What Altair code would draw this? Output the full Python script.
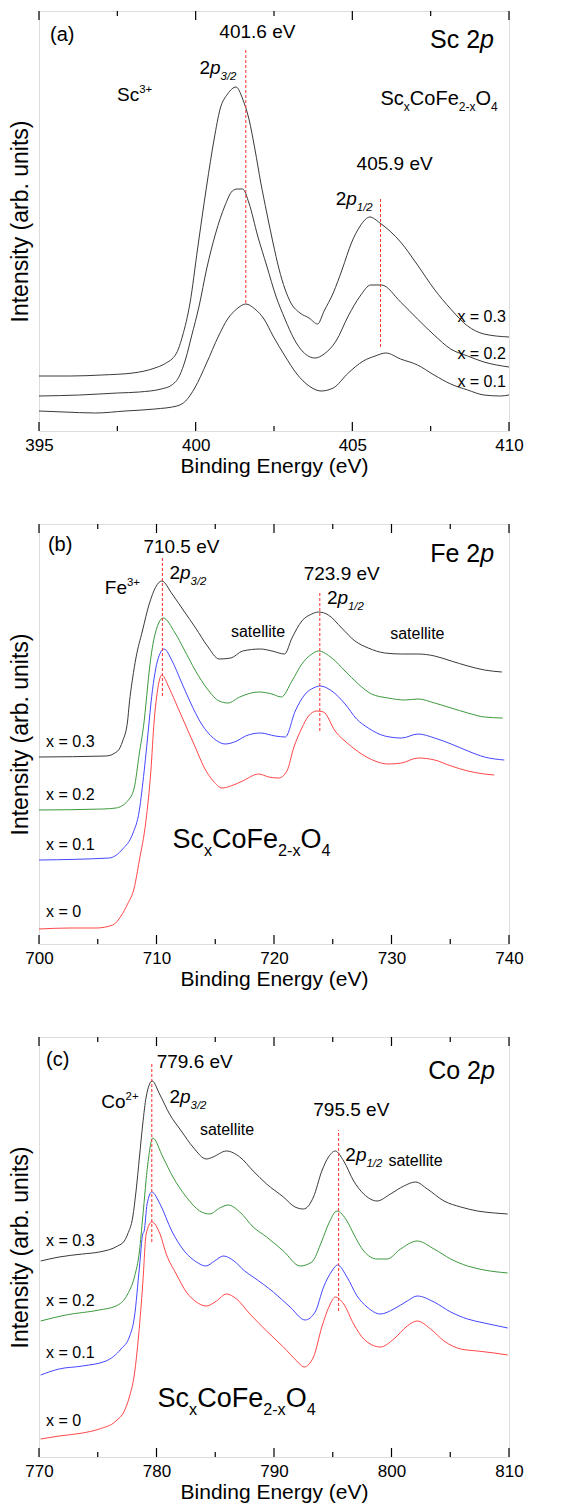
import altair as alt
import pandas as pd

FONT = "Liberation Sans"

# ---------------- panel (a): Sc 2p ----------------
A_NAMES = ["x = 0.3", "x = 0.2", "x = 0.1"]
A_COLORS = ["#3a3a3a", "#3a3a3a", "#3a3a3a"]
A3_E = [395.0, 396.0, 397.0, 398.0, 398.7, 399.0, 399.39, 399.58, 399.82, 400.06, 400.35, 400.59, 400.78,
        401.02, 401.29, 401.5, 401.7, 401.89, 402.08, 402.27, 402.47, 402.66, 402.85, 403.04, 403.33, 403.62,
        403.89, 404.1, 404.39, 404.68, 404.97, 405.25, 405.56, 405.88, 406.54, 407.08, 407.61, 408.14, 408.68,
        409.2, 410.0]
A3_I = [55, 55, 56, 58, 63, 67, 78, 95, 128, 182, 245, 292, 322, 337, 344, 332, 312, 282, 248, 218, 188, 162,
        142, 128, 118, 113, 107, 120, 138, 162, 188, 205, 214, 208, 189, 166, 142, 122, 105, 97, 94]
A2_E = [395.0, 396.3, 397.5, 398.2, 398.9, 399.24, 399.48, 399.68, 399.87, 400.11, 400.35, 400.64, 400.93,
        401.17, 401.33, 401.5, 401.7, 401.98, 402.27, 402.56, 402.85, 403.14, 403.43, 403.81, 404.1, 404.48,
        404.87, 405.25, 405.59, 405.93, 406.54, 407.08, 407.61, 408.14, 408.68, 409.2, 410.0]
A2_I = [35, 36, 38, 39, 42, 46, 55, 72, 95, 125, 162, 198, 225, 240, 242, 242, 228, 195, 165, 135, 112, 92, 79,
        73, 77, 90, 115, 135, 146, 146, 129, 112, 96, 82, 75, 69, 64]
A1_E = [395.0, 395.8, 396.8, 397.75, 398.7, 399.4, 399.68, 399.97, 400.35, 400.73, 401.02, 401.31, 401.6,
        401.89, 402.18, 402.47, 402.85, 403.23, 403.62, 404.0, 404.39, 404.87, 405.35, 405.73, 406.07, 406.54,
        407.08, 407.61, 408.14, 408.68, 409.2, 409.73, 410.0]
A1_I = [20, 19, 18, 20, 22, 25, 30, 43, 68, 95, 112, 122, 127, 122, 112, 95, 75, 57, 45, 40, 43, 58, 70, 75, 78,
        72, 66, 56, 47, 41, 36, 35, 36]
A_PEAKS = [401.6, 405.9]
A_PEAK_LO = [128, 84]
A_PEAK_HI = [382, 232]
A_MAJOR = [395, 400, 405, 410]
A_MINOR = [397.5, 402.5, 407.5]

# ---------------- panel (b): Fe 2p ----------------
B_NAMES = ["x = 0.3", "x = 0.2", "x = 0.1", "x = 0"]
B_COLORS = ["#3a3a3a", "#3c9a3c", "#4646ff", "#ff4646"]
B3_E = [700.0, 705.7, 706.7, 707.12, 707.54, 707.68, 707.97, 708.25, 708.8, 709.38, 710.45, 711.33, 712.33,
        713.33, 714.33, 715.33, 716.33, 717.33, 718.84, 719.83, 720.9, 721.53, 722.37, 723.22, 723.79, 724.63,
        725.76, 726.89, 728.02, 729.43, 730.85, 732.26, 733.67, 735.08, 736.5, 737.91, 739.4]
B3_I = [187, 188, 193, 203, 223, 240, 266, 286, 313, 340, 363, 350, 333, 316, 298, 285, 286, 293, 295, 293,
        290, 306, 323, 330, 332, 329, 316, 303, 296, 291, 290, 290, 288, 283, 278, 274, 272]
B2_E = [700.0, 705.42, 706.55, 707.54, 708.1, 708.53, 708.95, 709.1, 709.38, 709.8, 710.57, 711.58, 712.33,
        713.33, 714.33, 715.33, 716.08, 717.08, 718.7, 719.83, 720.62, 721.53, 722.37, 723.22, 723.79, 724.92,
        726.05, 727.18, 728.3, 729.72, 731.13, 732.26, 733.67, 735.08, 736.5, 737.91, 739.46]
B2_I = [134, 135, 136, 143, 156, 190, 223, 240, 273, 306, 326, 311, 295, 273, 255, 243, 241, 247, 252, 250,
        247, 263, 280, 290, 293, 286, 273, 260, 250, 246, 244, 245, 241, 236, 231, 227, 226]
B1_E = [700.0, 705.99, 707.12, 707.97, 708.53, 708.95, 709.38, 709.52, 709.8, 710.08, 710.65, 711.33, 712.08,
        712.83, 713.83, 714.83, 715.83, 716.83, 717.58, 718.84, 720.11, 720.96, 721.81, 722.66, 723.36, 723.93,
        724.92, 726.05, 727.03, 728.02, 729.43, 730.85, 732.26, 733.67, 735.08, 736.5, 737.91, 739.6]
B1_I = [84, 86, 95, 110, 133, 173, 223, 240, 266, 283, 295, 283, 263, 243, 220, 206, 200, 203, 208, 211, 208,
        207, 233, 250, 256, 258, 253, 240, 225, 216, 208, 206, 210, 206, 200, 193, 187, 184]
B0_E = [700.0, 702.6, 704.86, 706.27, 706.98, 707.54, 708.1, 708.53, 709.1, 709.52, 709.8, 710.0, 710.45,
        711.08, 711.83, 712.58, 713.33, 714.08, 714.83, 715.58, 716.33, 717.33, 718.7, 719.55, 720.4, 721.1,
        721.67, 722.37, 722.94, 723.64, 724.21, 725.2, 726.33, 727.46, 728.59, 729.72, 730.85, 732.26, 733.67,
        735.08, 736.5, 737.91, 738.75]
B0_I = [15, 16, 16, 19, 28, 40, 56, 83, 123, 173, 223, 246, 269, 256, 236, 216, 196, 176, 163, 156, 158, 163,
        170, 167, 166, 173, 196, 216, 228, 233, 232, 213, 200, 190, 183, 180, 181, 186, 184, 178, 173, 170, 169]
B_PEAKS = [710.5, 723.9]
B_PEAK_LO = [248, 213]
B_PEAK_HI = [386, 351]
B_MAJOR = [700, 710, 720, 730, 740]
B_MINOR = [705, 715, 725, 735]

# ---------------- panel (c): Co 2p ----------------
C_NAMES = B_NAMES
C_COLORS = B_COLORS
C3_E = [770.14, 771.71, 773.7, 775.13, 776.69, 777.26, 777.55, 777.98, 778.26, 778.55, 778.83, 779.12, 779.63,
        780.26, 781.11, 782.11, 783.1, 784.25, 784.81, 785.95, 787.09, 788.23, 789.37, 790.8, 791.79, 792.51,
        793.36, 794.07, 794.64, 795.21, 795.93, 796.78, 797.64, 798.77, 799.91, 801.05, 802.05, 803.05, 804.47,
        805.9, 807.32, 808.75, 809.89]
C3_I = [196, 200, 203, 205, 211, 216, 223, 240, 266, 300, 333, 360, 376, 363, 343, 326, 310, 298, 300, 306, 300,
        286, 273, 260, 250, 248, 260, 286, 300, 306, 296, 276, 263, 256, 263, 271, 275, 268, 256, 250, 246, 244,
        243]
C2_E = [770.14, 772.28, 775.13, 776.55, 777.55, 778.12, 778.55, 778.83, 779.26, 779.68, 780.54, 781.4, 782.54,
        783.68, 784.53, 785.38, 786.1, 787.09, 788.23, 789.37, 790.8, 792.22, 793.22, 794.07, 794.64, 795.36,
        796.21, 796.78, 797.64, 798.77, 799.63, 800.77, 802.19, 803.62, 805.04, 806.47, 807.89, 809.89]
C2_I = [136, 142, 147, 151, 163, 180, 206, 240, 293, 319, 300, 280, 260, 246, 243, 249, 252, 245, 230, 220, 206,
        191, 195, 216, 233, 246, 236, 223, 206, 198, 198, 208, 216, 208, 198, 191, 187, 184]
C1_E = [770.14, 771.71, 773.7, 775.7, 776.98, 777.69, 778.12, 778.55, 778.83, 778.95, 779.2, 779.6, 780.3,
        781.3, 782.36, 783.4, 784.2, 784.94, 785.7, 786.6, 787.5, 788.23, 789.94, 791.37, 792.65, 793.5, 794.22,
        794.93, 795.41, 796.21, 797.07, 797.92, 799.06, 800.2, 801.34, 802.19, 803.62, 805.04, 806.47, 807.89,
        809.89]
C1_I = [82, 88, 91, 96, 108, 120, 140, 190, 223, 226, 253, 265, 253, 226, 206, 195, 191, 196, 201, 196, 186,
        180, 165, 150, 137, 145, 170, 186, 192, 180, 161, 150, 143, 148, 156, 161, 155, 145, 138, 134, 129]
C0_E = [770.14, 771.71, 773.7, 775.13, 776.55, 777.26, 777.69, 778.12, 778.49, 778.83, 779.12, 779.6, 780.3,
        780.83, 781.68, 782.54, 783.39, 784.25, 785.1, 785.95, 786.81, 787.95, 789.37, 790.8, 791.94, 792.56,
        793.36, 794.07, 794.79, 795.21, 795.93, 796.78, 797.64, 799.06, 800.2, 801.34, 802.19, 803.33, 804.47,
        805.9, 807.32, 808.75, 809.89]
C0_I = [18, 21, 24, 28, 36, 46, 60, 83, 123, 173, 223, 235, 223, 203, 183, 165, 155, 151, 156, 163, 158, 143,
        126, 110, 96, 90, 100, 130, 153, 160, 153, 133, 118, 110, 118, 131, 136, 128, 116, 108, 106, 104, 102]
C_PEAKS = [779.6, 795.5]
C_PEAK_LO = [215, 146]
C_PEAK_HI = [395, 327]
C_MAJOR = [770, 780, 790, 800, 810]
C_MINOR = [775, 785, 795, 805]

# ---------------- annotations (anchor energy, anchor intensity, text parts) ----------------
FORMULA = [("Sc", "n"), ("x", "sub"), ("CoFe", "n"), ("2-x", "sub"), ("O", "n"), ("4", "sub")]
A_NOTES = [
    (395.35, 390, [("(a)", "n")], 20, "left"),
    (401.97, 393, [("401.6 eV", "n")], 19, "center"),
    (409.52, 383, [("Sc 2", "n"), ("p", "i")], 25, "right"),
    (400.12, 357, [("2", "n"), ("p", "i"), ("3/2", "subi")], 19, "left"),
    (397.49, 330, [("Sc", "n"), ("3+", "sup")], 19, "left"),
    (405.9, 326, FORMULA, 20, "left"),
    (406.35, 261, [("405.9 eV", "n")], 19, "center"),
    (404.47, 226, [("2", "n"), ("p", "i"), ("1/2", "subi")], 19, "left"),
    (409.9, 109, [("x = 0.3", "n")], 16, "right"),
    (409.9, 72, [("x = 0.2", "n")], 16, "right"),
    (409.9, 44, [("x = 0.1", "n")], 16, "right"),
]
B_NOTES = [
    (700.76, 393, [("(b)", "n")], 20, "left"),
    (712.12, 391, [("710.5 eV", "n")], 19, "center"),
    (738.73, 382, [("Fe 2", "n"), ("p", "i")], 25, "right"),
    (711.1, 365, [("2", "n"), ("p", "i"), ("3/2", "subi")], 19, "left"),
    (705.6, 350, [("Fe", "n"), ("3+", "sup")], 19, "left"),
    (725.76, 364, [("723.9 eV", "n")], 19, "center"),
    (724.5, 340, [("2", "n"), ("p", "i"), ("1/2", "subi")], 19, "left"),
    (718.64, 307, [("satellite", "n")], 16, "center"),
    (732.2, 305, [("satellite", "n")], 16, "center"),
    (700.6, 197, [("x = 0.3", "n")], 16, "left"),
    (700.6, 144, [("x = 0.2", "n")], 16, "left"),
    (700.6, 94, [("x = 0.1", "n")], 16, "left"),
    (700.6, 27, [("x = 0", "n")], 16, "left"),
    (711.36, 96, FORMULA, 27, "left"),
]
C_NOTES = [
    (770.6, 391, [("(c)", "n")], 20, "left"),
    (783.25, 389, [("779.6 eV", "n")], 19, "center"),
    (808.8, 378, [("Co 2", "n"), ("p", "i")], 25, "right"),
    (775.3, 349, [("Co", "n"), ("2+", "sup")], 19, "left"),
    (781.1, 354, [("2", "n"), ("p", "i"), ("3/2", "subi")], 19, "left"),
    (786.0, 322, [("satellite", "n")], 16, "center"),
    (796.58, 341, [("795.5 eV", "n")], 19, "center"),
    (796.07, 296, [("2", "n"), ("p", "i"), ("1/2", "subi")], 19, "left"),
    (799.74, 291, [("satellite", "n")], 16, "left"),
    (770.6, 211, [("x = 0.3", "n")], 16, "left"),
    (770.6, 151, [("x = 0.2", "n")], 16, "left"),
    (770.6, 99, [("x = 0.1", "n")], 16, "left"),
    (770.6, 31, [("x = 0", "n")], 16, "left"),
    (780.09, 50, FORMULA, 27, "left"),
]

# ---------------- helpers ----------------
W, H = 470, 420
CW = {".": .278, " ": .278, "/": .278, "+": .584, "-": .333, "=": .584, "S": .667, "c": .5, "C": .722,
      "o": .556, "F": .611, "e": .556, "O": .778, "x": .5, "p": .556, "V": .667, "(": .333, ")": .333,
      "a": .556, "b": .556}


def text_w(t, size):
    return sum(CW.get(ch, .556) for ch in t) * size


def enc_x(dom, majors):
    return alt.X("e:Q", scale=alt.Scale(domain=dom, nice=False, zero=False),
                 axis=alt.Axis(title="Binding Energy (eV)", values=majors, grid=False, ticks=False,
                               domain=False, labelFontSize=17, labelFont=FONT, labelPadding=6,
                               labelFlush=False, titleFontSize=21, titleFont=FONT,
                               titleFontWeight="normal", titlePadding=2, labelColor="black",
                               titleColor="black", format="d"))


def enc_y():
    return alt.Y("i:Q", scale=alt.Scale(domain=[0, H], nice=False, zero=False),
                 axis=alt.Axis(title="Intensity (arb. units)", labels=False, ticks=False, domain=False,
                               grid=False, titleFontSize=23, titleFont=FONT, titleFontWeight="normal",
                               titlePadding=7, titleColor="black"))


def panel(dom, majors, minors, names, colors, curves, peaks, lo, hi, notes):
    xe = enc_x(dom, majors)
    ye = enc_y()
    rows = []
    for name, (es, ins) in zip(names, curves):
        for k, (e, i) in enumerate(zip(es, ins)):
            rows.append({"e": e, "i": i, "s": name, "k": k})
    lines = alt.Chart(pd.DataFrame(rows)).mark_line(strokeWidth=1, interpolate="monotone").encode(
        x=xe, y=ye, order="k:Q",
        color=alt.Color("s:N", scale=alt.Scale(domain=names, range=colors), legend=None),
        detail="s:N")
    pk = pd.DataFrame({"e": peaks, "i": lo, "i2": hi})
    dashed = alt.Chart(pk).mark_rule(color="#ff2a2a", strokeDash=[3, 2], strokeWidth=1).encode(
        x=xe, y=ye, y2="i2:Q")
    maj = pd.DataFrame({"e": majors})
    mnr = pd.DataFrame({"e": minors})
    tick_layers = []
    for df, ln in ((maj, 9), (mnr, 5)):
        tick_layers.append(alt.Chart(df).mark_rule(color="black", strokeWidth=1.2).encode(
            x=xe, y=alt.value(H), y2=alt.value(H - ln)))
        tick_layers.append(alt.Chart(df).mark_rule(color="black", strokeWidth=1.2).encode(
            x=xe, y=alt.value(0), y2=alt.value(ln)))
    text_layers = []
    for e0, i0, segs, size, align in notes:
        if len(segs) == 1 and segs[0][1] == "n":
            text_layers.append(alt.Chart(pd.DataFrame({"e": [e0], "i": [i0], "t": [segs[0][0]]})).mark_text(
                align=align, baseline="alphabetic", fontSize=size, font=FONT, color="black").encode(
                x=xe, y=ye, text="t:N"))
            continue
        widths = []
        for t, kind in segs:
            fs = size * 0.6 if kind in ("sub", "sup", "subi") else size
            widths.append(text_w(t, fs))
        off = -sum(widths) if align == "right" else 0
        for (t, kind), wdt in zip(segs, widths):
            fs = size * 0.6 if kind in ("sub", "sup", "subi") else size
            dy = size * 0.3 if kind in ("sub", "subi") else (-size * 0.42 if kind == "sup" else 0)
            style = "italic" if kind in ("i", "subi") else "normal"
            text_layers.append(alt.Chart(pd.DataFrame({"e": [e0], "i": [i0], "t": [t]})).mark_text(
                align="left", baseline="alphabetic", fontSize=fs, font=FONT, fontStyle=style,
                dx=off, dy=dy, color="black").encode(x=xe, y=ye, text="t:N"))
            off += wdt
    return alt.layer(lines, dashed, *tick_layers, *text_layers).properties(width=W, height=H)


pa = panel([395, 410], A_MAJOR, A_MINOR, A_NAMES, A_COLORS,
           [(A3_E, A3_I), (A2_E, A2_I), (A1_E, A1_I)], A_PEAKS, A_PEAK_LO, A_PEAK_HI, A_NOTES)
pb = panel([700, 740], B_MAJOR, B_MINOR, B_NAMES, B_COLORS,
           [(B3_E, B3_I), (B2_E, B2_I), (B1_E, B1_I), (B0_E, B0_I)], B_PEAKS, B_PEAK_LO, B_PEAK_HI, B_NOTES)
pc = panel([770, 810], C_MAJOR, C_MINOR, C_NAMES, C_COLORS,
           [(C3_E, C3_I), (C2_E, C2_I), (C1_E, C1_I), (C0_E, C0_I)], C_PEAKS, C_PEAK_LO, C_PEAK_HI, C_NOTES)

chart = alt.vconcat(pa, pb, pc, spacing=45).resolve_scale(color="independent").properties(
    padding={"left": 8, "top": 9, "right": 5, "bottom": 5}
).configure_view(stroke="black", strokeWidth=1.5).configure(background="white")

chart.save("out.html", embed_options={"renderer": "svg", "actions": False})
